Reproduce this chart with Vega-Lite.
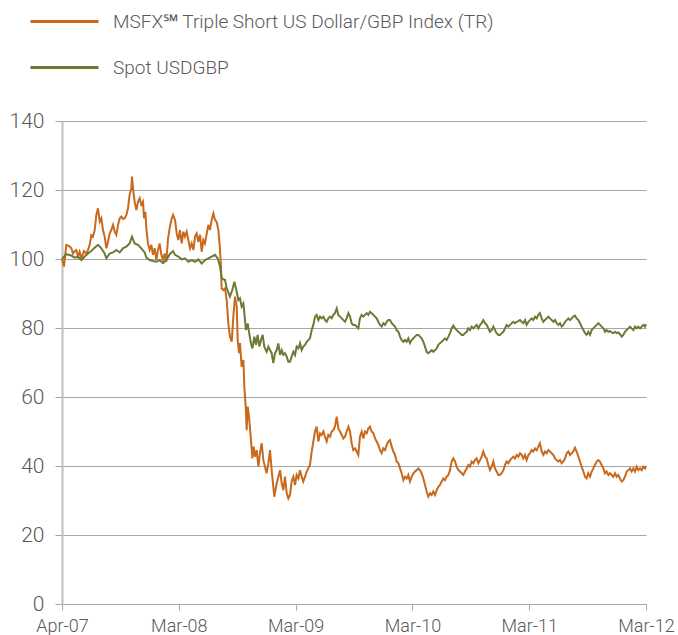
{
"$schema": "https://vega.github.io/schema/vega-lite/v6.json",
"width": 584,
"height": 483,
"autosize": {"type": "none"},
"padding": {"left": 62, "top": 121, "right": 32, "bottom": 31},
"background": "white",
"config": {"view": {"stroke": null}, "font": "Roboto"},
"datasets": {
"msfx": [
{"t":0,"v":100},{"t":0.017,"v":97.8},{"t":0.037,"v":104.1},{"t":0.051,"v":103.9},{"t":0.066,"v":103.6},{"t":0.080,"v":103.1},{"t":0.094,"v":101.6},{"t":0.109,"v":102.3},{"t":0.123,"v":102.6},{"t":0.137,"v":100.7},{"t":0.151,"v":102.1},{"t":0.166,"v":100.2},{"t":0.188,"v":102.3},{"t":0.208,"v":101.6},{"t":0.223,"v":102.6},{"t":0.237,"v":104.1},{"t":0.251,"v":106.9},{"t":0.265,"v":106.5},{"t":0.280,"v":108.4},{"t":0.294,"v":112.8},{"t":0.308,"v":114.7},{"t":0.323,"v":110.8},{"t":0.337,"v":111.8},{"t":0.351,"v":108.4},{"t":0.365,"v":106.5},{"t":0.380,"v":103.1},{"t":0.394,"v":105.0},{"t":0.408,"v":107.4},{"t":0.422,"v":108.4},{"t":0.437,"v":109.9},{"t":0.451,"v":107.9},{"t":0.465,"v":107.0},{"t":0.480,"v":109.9},{"t":0.494,"v":111.8},{"t":0.508,"v":112.3},{"t":0.522,"v":111.6},{"t":0.537,"v":111.8},{"t":0.551,"v":112.8},{"t":0.565,"v":114.7},{"t":0.579,"v":118.6},{"t":0.594,"v":120.5},{"t":0.599,"v":123.9},{"t":0.611,"v":119.5},{"t":0.622,"v":116.6},{"t":0.637,"v":114.2},{"t":0.651,"v":116.6},{"t":0.665,"v":117.6},{"t":0.679,"v":115.7},{"t":0.694,"v":116.6},{"t":0.702,"v":111.8},{"t":0.714,"v":113.7},{"t":0.722,"v":108.9},{"t":0.736,"v":104.5},{"t":0.751,"v":102.6},{"t":0.765,"v":104.1},{"t":0.779,"v":101.2},{"t":0.794,"v":103.1},{"t":0.808,"v":99.7},{"t":0.822,"v":102.6},{"t":0.836,"v":104.5},{"t":0.851,"v":101.2},{"t":0.865,"v":99.7},{"t":0.879,"v":101.6},{"t":0.893,"v":99.2},{"t":0.908,"v":106.0},{"t":0.922,"v":108.9},{"t":0.936,"v":111.3},{"t":0.951,"v":112.8},
{"t":0.968,"v":111.3},{"t":0.982,"v":107.4},{"t":0.996,"v":105.5},{"t":1.010,"v":108.4},{"t":1.025,"v":104.5},{"t":1.039,"v":107.9},{"t":1.053,"v":106.5},{"t":1.067,"v":107.9},{"t":1.082,"v":105.5},{"t":1.096,"v":103.1},{"t":1.110,"v":104.5},{"t":1.125,"v":102.6},{"t":1.139,"v":106.5},{"t":1.153,"v":107.4},{"t":1.167,"v":105.0},{"t":1.182,"v":107.0},{"t":1.196,"v":102.1},{"t":1.210,"v":105.5},{"t":1.224,"v":104.5},{"t":1.239,"v":107.4},{"t":1.253,"v":109.9},{"t":1.267,"v":108.4},{"t":1.281,"v":111.3},{"t":1.296,"v":113.2},{"t":1.310,"v":111.3},{"t":1.324,"v":110.8},{"t":1.339,"v":108.4},{"t":1.353,"v":102.6},{"t":1.361,"v":97.8},{"t":1.367,"v":91.5},{"t":1.381,"v":91.0},{"t":1.396,"v":91.5},{"t":1.410,"v":88.1},{"t":1.424,"v":81.3},{"t":1.438,"v":77.5},{"t":1.453,"v":76.0},{"t":1.467,"v":83.3},{"t":1.481,"v":89.1},{"t":1.496,"v":86.2},{"t":1.504,"v":76.5},{"t":1.516,"v":72.7},{"t":1.524,"v":75.6},{"t":1.538,"v":68.8},{"t":1.553,"v":70.7},{"t":1.561,"v":63.0},{"t":1.573,"v":57.2},{"t":1.581,"v":50.4},{"t":1.590,"v":57.2},{"t":1.601,"v":54.3},{"t":1.618,"v":47.5},{"t":1.630,"v":42.2},{"t":1.641,"v":45.6},{"t":1.653,"v":42.7},{"t":1.667,"v":44.6},{"t":1.681,"v":39.8},{"t":1.695,"v":43.7},{"t":1.710,"v":46.6},{"t":1.724,"v":41.7},{"t":1.738,"v":39.8},{"t":1.752,"v":37.9},{"t":1.767,"v":40.8},{"t":1.781,"v":44.6},{"t":1.795,"v":38.8},{"t":1.809,"v":34.0},{"t":1.818,"v":31.1},{"t":1.838,"v":35.0},{"t":1.852,"v":36.9},{"t":1.867,"v":38.8},{"t":1.881,"v":35.0},{"t":1.895,"v":33.0},{"t":1.909,"v":36.9},{"t":1.924,"v":32.1},{"t":1.938,"v":30.6},
{"t":1.952,"v":31.6},{"t":1.966,"v":35.5},{"t":1.981,"v":36.9},{"t":1.995,"v":34.5},{"t":2.009,"v":37.4},{"t":2.024,"v":36.4},{"t":2.038,"v":38.8},{"t":2.052,"v":36.9},{"t":2.066,"v":35.5},{"t":2.081,"v":36.9},{"t":2.095,"v":38.4},{"t":2.109,"v":39.3},{"t":2.123,"v":40.3},{"t":2.138,"v":44.2},{"t":2.152,"v":47.1},{"t":2.166,"v":50.0},{"t":2.180,"v":51.4},{"t":2.195,"v":47.1},{"t":2.209,"v":49.5},{"t":2.223,"v":49.0},{"t":2.238,"v":50.0},{"t":2.252,"v":48.5},{"t":2.266,"v":47.1},{"t":2.280,"v":49.0},{"t":2.295,"v":48.5},{"t":2.309,"v":50.0},{"t":2.323,"v":50.4},{"t":2.337,"v":51.4},{"t":2.352,"v":54.3},{"t":2.366,"v":50.9},{"t":2.380,"v":50.0},{"t":2.395,"v":49.0},{"t":2.409,"v":48.0},{"t":2.423,"v":48.5},{"t":2.437,"v":50.0},{"t":2.452,"v":51.4},{"t":2.466,"v":50.0},{"t":2.480,"v":46.6},{"t":2.494,"v":44.6},{"t":2.509,"v":45.1},{"t":2.523,"v":44.2},{"t":2.537,"v":43.2},{"t":2.551,"v":48.5},{"t":2.566,"v":50.0},{"t":2.580,"v":48.0},{"t":2.594,"v":50.0},{"t":2.609,"v":49.5},{"t":2.623,"v":50.9},{"t":2.637,"v":51.4},{"t":2.651,"v":50.0},{"t":2.666,"v":49.5},{"t":2.680,"v":48.0},{"t":2.694,"v":47.1},{"t":2.708,"v":46.1},{"t":2.723,"v":44.6},{"t":2.737,"v":43.7},{"t":2.751,"v":45.1},{"t":2.766,"v":44.6},{"t":2.780,"v":46.1},{"t":2.794,"v":47.1},{"t":2.808,"v":47.5},{"t":2.823,"v":45.6},{"t":2.837,"v":44.2},{"t":2.851,"v":43.2},{"t":2.865,"v":41.3},{"t":2.880,"v":40.8},{"t":2.894,"v":39.3},{"t":2.908,"v":37.9},{"t":2.923,"v":35.9},
{"t":2.937,"v":36.9},{"t":2.951,"v":36.4},{"t":2.965,"v":37.4},{"t":2.979,"v":35.5},{"t":2.994,"v":36.9},{"t":3.008,"v":37.9},{"t":3.022,"v":38.4},{"t":3.037,"v":38.8},{"t":3.051,"v":39.3},{"t":3.065,"v":38.8},{"t":3.079,"v":37.9},{"t":3.094,"v":36.4},{"t":3.108,"v":34.5},{"t":3.122,"v":32.6},{"t":3.136,"v":31.1},{"t":3.151,"v":32.1},{"t":3.165,"v":31.6},{"t":3.179,"v":32.6},{"t":3.194,"v":31.6},{"t":3.208,"v":33.0},{"t":3.222,"v":34.0},{"t":3.236,"v":34.5},{"t":3.251,"v":35.5},{"t":3.265,"v":36.4},{"t":3.279,"v":35.9},{"t":3.293,"v":36.9},{"t":3.308,"v":37.4},{"t":3.322,"v":38.8},{"t":3.336,"v":41.3},{"t":3.350,"v":42.2},{"t":3.365,"v":41.3},{"t":3.379,"v":39.8},{"t":3.393,"v":38.8},{"t":3.408,"v":38.4},{"t":3.422,"v":37.9},{"t":3.436,"v":37.4},{"t":3.450,"v":38.4},{"t":3.465,"v":39.3},{"t":3.479,"v":40.3},{"t":3.493,"v":39.8},{"t":3.507,"v":41.3},{"t":3.522,"v":40.8},{"t":3.536,"v":41.7},{"t":3.550,"v":42.2},{"t":3.565,"v":40.8},{"t":3.579,"v":41.7},{"t":3.593,"v":42.7},{"t":3.607,"v":44.2},{"t":3.622,"v":42.7},{"t":3.636,"v":42.2},{"t":3.650,"v":40.3},{"t":3.664,"v":38.8},{"t":3.679,"v":39.8},{"t":3.693,"v":41.3},{"t":3.707,"v":39.3},{"t":3.721,"v":38.4},{"t":3.736,"v":37.4},{"t":3.750,"v":37.4},{"t":3.764,"v":37.9},{"t":3.779,"v":38.8},{"t":3.793,"v":40.3},{"t":3.807,"v":41.3},{"t":3.821,"v":40.8},{"t":3.836,"v":41.7},{"t":3.850,"v":42.2},{"t":3.864,"v":42.7},{"t":3.878,"v":42.2},{"t":3.893,"v":43.2},{"t":3.907,"v":42.7},
{"t":3.921,"v":43.7},{"t":3.936,"v":43.2},{"t":3.950,"v":42.2},{"t":3.964,"v":43.2},{"t":3.978,"v":41.7},{"t":3.993,"v":43.2},{"t":4.007,"v":43.7},{"t":4.021,"v":44.6},{"t":4.035,"v":44.2},{"t":4.050,"v":45.1},{"t":4.064,"v":44.6},{"t":4.078,"v":45.6},{"t":4.092,"v":46.6},{"t":4.107,"v":44.2},{"t":4.121,"v":43.2},{"t":4.135,"v":44.2},{"t":4.150,"v":43.7},{"t":4.164,"v":44.6},{"t":4.178,"v":44.2},{"t":4.192,"v":43.7},{"t":4.207,"v":43.2},{"t":4.221,"v":42.2},{"t":4.235,"v":41.7},{"t":4.249,"v":41.3},{"t":4.264,"v":41.7},{"t":4.278,"v":40.8},{"t":4.292,"v":41.3},{"t":4.307,"v":42.2},{"t":4.321,"v":43.7},{"t":4.335,"v":44.2},{"t":4.349,"v":43.2},{"t":4.364,"v":43.7},{"t":4.378,"v":44.2},{"t":4.392,"v":45.3},{"t":4.406,"v":44.2},{"t":4.421,"v":42.7},{"t":4.435,"v":41.3},{"t":4.449,"v":39.8},{"t":4.464,"v":38.4},{"t":4.478,"v":36.9},{"t":4.492,"v":36.4},{"t":4.506,"v":37.9},{"t":4.521,"v":36.9},{"t":4.535,"v":38.4},{"t":4.549,"v":39.3},{"t":4.563,"v":40.3},{"t":4.578,"v":41.3},{"t":4.592,"v":41.7},{"t":4.606,"v":41.3},{"t":4.620,"v":40.3},{"t":4.635,"v":39.3},{"t":4.649,"v":37.9},{"t":4.663,"v":38.4},{"t":4.678,"v":37.4},{"t":4.692,"v":37.9},{"t":4.706,"v":37.4},{"t":4.720,"v":36.9},{"t":4.735,"v":37.9},{"t":4.749,"v":36.9},{"t":4.763,"v":37.4},{"t":4.777,"v":36.4},{"t":4.792,"v":35.5},{"t":4.806,"v":35.9},{"t":4.820,"v":36.9},{"t":4.835,"v":38.4},{"t":4.849,"v":38.8},{"t":4.863,"v":39.3},{"t":4.877,"v":38.4},{"t":4.892,"v":39.3},{"t":4.906,"v":38.4},{"t":4.920,"v":39.8},{"t":4.934,"v":38.8},{"t":4.949,"v":39.3},{"t":4.963,"v":38.8},{"t":4.977,"v":39.8},{"t":4.991,"v":39.3},{"t":5.0,"v":40.0}
],
"spot": [
{"t":0,"v":100},{"t":0.037,"v":101.4},{"t":0.080,"v":101.0},{"t":0.109,"v":100.4},{"t":0.137,"v":100.7},{"t":0.166,"v":99.7},{"t":0.194,"v":100.7},{"t":0.223,"v":101.6},{"t":0.251,"v":102.3},{"t":0.280,"v":103.3},{"t":0.308,"v":104.1},{"t":0.337,"v":103.1},{"t":0.365,"v":101.6},{"t":0.380,"v":100.2},{"t":0.408,"v":101.6},{"t":0.437,"v":101.9},{"t":0.465,"v":102.6},{"t":0.494,"v":101.9},{"t":0.522,"v":103.1},{"t":0.551,"v":103.6},{"t":0.579,"v":104.5},{"t":0.599,"v":106.5},{"t":0.622,"v":104.5},{"t":0.651,"v":104.1},{"t":0.679,"v":103.1},{"t":0.708,"v":101.9},{"t":0.722,"v":100.4},{"t":0.751,"v":99.7},{"t":0.779,"v":99.4},{"t":0.808,"v":99.2},{"t":0.836,"v":99.7},{"t":0.865,"v":98.8},{"t":0.893,"v":99.7},{"t":0.922,"v":101.4},{"t":0.951,"v":102.3},
{"t":0.968,"v":101.2},{"t":0.996,"v":100.7},{"t":1.025,"v":99.9},{"t":1.053,"v":100.2},{"t":1.082,"v":99.2},{"t":1.110,"v":99.7},{"t":1.139,"v":99.2},{"t":1.167,"v":99.9},{"t":1.196,"v":98.7},{"t":1.224,"v":99.7},{"t":1.253,"v":100.2},{"t":1.281,"v":100.7},{"t":1.310,"v":101.2},{"t":1.333,"v":100.2},{"t":1.353,"v":97.8},{"t":1.367,"v":94.4},{"t":1.396,"v":93.9},{"t":1.410,"v":91.5},{"t":1.438,"v":89.1},{"t":1.458,"v":91.0},{"t":1.476,"v":93.4},{"t":1.496,"v":90.5},{"t":1.510,"v":88.1},{"t":1.524,"v":88.6},{"t":1.538,"v":86.2},{"t":1.553,"v":87.1},{"t":1.567,"v":82.3},{"t":1.575,"v":79.4},{"t":1.590,"v":81.3},{"t":1.601,"v":78.9},{"t":1.618,"v":75.5},{"t":1.630,"v":74.1},{"t":1.647,"v":77.5},{"t":1.661,"v":75.1},{"t":1.675,"v":78.0},{"t":1.690,"v":74.6},{"t":1.704,"v":76.5},{"t":1.718,"v":78.0},{"t":1.732,"v":74.6},{"t":1.752,"v":73.1},{"t":1.767,"v":74.6},{"t":1.781,"v":73.6},{"t":1.795,"v":72.7},{"t":1.809,"v":69.8},{"t":1.824,"v":72.7},{"t":1.838,"v":73.6},{"t":1.852,"v":75.5},{"t":1.867,"v":72.2},{"t":1.881,"v":73.6},{"t":1.895,"v":72.2},{"t":1.909,"v":72.7},{"t":1.924,"v":71.7},{"t":1.938,"v":70.2},
{"t":1.952,"v":70.2},{"t":1.966,"v":71.7},{"t":1.981,"v":73.1},{"t":1.995,"v":72.2},{"t":2.009,"v":74.6},{"t":2.024,"v":74.1},{"t":2.038,"v":75.6},{"t":2.052,"v":73.6},{"t":2.066,"v":74.6},{"t":2.081,"v":75.1},{"t":2.095,"v":76.0},{"t":2.109,"v":76.5},{"t":2.123,"v":77.0},{"t":2.138,"v":79.4},{"t":2.152,"v":80.9},{"t":2.166,"v":83.3},{"t":2.180,"v":83.8},{"t":2.195,"v":82.3},{"t":2.209,"v":83.3},{"t":2.223,"v":82.8},{"t":2.238,"v":83.3},{"t":2.252,"v":82.3},{"t":2.266,"v":81.8},{"t":2.280,"v":82.8},{"t":2.295,"v":83.3},{"t":2.309,"v":82.8},{"t":2.323,"v":83.8},{"t":2.337,"v":84.3},{"t":2.352,"v":85.7},{"t":2.366,"v":83.8},{"t":2.380,"v":83.3},{"t":2.395,"v":82.8},{"t":2.409,"v":82.3},{"t":2.423,"v":81.8},{"t":2.437,"v":82.8},{"t":2.452,"v":84.3},{"t":2.466,"v":83.3},{"t":2.480,"v":81.4},{"t":2.494,"v":80.9},{"t":2.509,"v":80.9},{"t":2.523,"v":80.4},{"t":2.537,"v":79.9},{"t":2.551,"v":82.8},{"t":2.566,"v":83.8},{"t":2.580,"v":83.3},{"t":2.594,"v":83.8},{"t":2.609,"v":84.3},{"t":2.623,"v":83.8},{"t":2.637,"v":84.7},{"t":2.651,"v":84.3},{"t":2.666,"v":83.8},{"t":2.680,"v":83.3},{"t":2.694,"v":82.8},{"t":2.708,"v":81.8},{"t":2.723,"v":80.9},{"t":2.737,"v":80.4},{"t":2.751,"v":81.4},{"t":2.766,"v":80.9},{"t":2.780,"v":81.8},{"t":2.794,"v":82.3},{"t":2.808,"v":82.3},{"t":2.823,"v":81.4},{"t":2.837,"v":80.9},{"t":2.851,"v":80.4},{"t":2.865,"v":79.4},{"t":2.880,"v":78.9},{"t":2.894,"v":77.5},{"t":2.908,"v":76.5},{"t":2.923,"v":76.0},
{"t":2.937,"v":76.5},{"t":2.951,"v":76.0},{"t":2.965,"v":77.0},{"t":2.979,"v":75.6},{"t":2.994,"v":76.5},{"t":3.008,"v":77.0},{"t":3.022,"v":77.5},{"t":3.037,"v":78.0},{"t":3.051,"v":78.0},{"t":3.065,"v":77.5},{"t":3.079,"v":77.0},{"t":3.094,"v":76.0},{"t":3.108,"v":74.6},{"t":3.122,"v":73.1},{"t":3.136,"v":72.7},{"t":3.151,"v":73.1},{"t":3.165,"v":73.6},{"t":3.179,"v":73.1},{"t":3.194,"v":73.6},{"t":3.208,"v":74.1},{"t":3.222,"v":75.1},{"t":3.236,"v":75.6},{"t":3.251,"v":76.0},{"t":3.265,"v":76.5},{"t":3.279,"v":77.0},{"t":3.293,"v":76.5},{"t":3.308,"v":77.5},{"t":3.322,"v":78.5},{"t":3.336,"v":79.9},{"t":3.350,"v":80.7},{"t":3.365,"v":79.9},{"t":3.379,"v":79.4},{"t":3.393,"v":78.9},{"t":3.408,"v":78.5},{"t":3.422,"v":78.0},{"t":3.436,"v":78.0},{"t":3.450,"v":78.5},{"t":3.465,"v":78.9},{"t":3.479,"v":79.9},{"t":3.493,"v":79.4},{"t":3.507,"v":80.4},{"t":3.522,"v":79.9},{"t":3.536,"v":80.4},{"t":3.550,"v":80.9},{"t":3.565,"v":79.9},{"t":3.579,"v":80.9},{"t":3.593,"v":81.4},{"t":3.607,"v":82.3},{"t":3.622,"v":81.4},{"t":3.636,"v":80.9},{"t":3.650,"v":79.9},{"t":3.664,"v":78.9},{"t":3.679,"v":79.4},{"t":3.693,"v":80.4},{"t":3.707,"v":79.4},{"t":3.721,"v":78.5},{"t":3.736,"v":78.0},{"t":3.750,"v":78.0},{"t":3.764,"v":78.5},{"t":3.779,"v":78.9},{"t":3.793,"v":79.9},{"t":3.807,"v":80.9},{"t":3.821,"v":80.4},{"t":3.836,"v":80.9},{"t":3.850,"v":81.4},{"t":3.864,"v":81.8},{"t":3.878,"v":81.4},{"t":3.893,"v":81.8},{"t":3.907,"v":82.0},
{"t":3.921,"v":82.3},{"t":3.936,"v":81.8},{"t":3.950,"v":81.4},{"t":3.964,"v":82.3},{"t":3.978,"v":80.9},{"t":3.993,"v":81.8},{"t":4.007,"v":82.3},{"t":4.021,"v":82.8},{"t":4.035,"v":82.3},{"t":4.050,"v":83.3},{"t":4.064,"v":82.8},{"t":4.078,"v":83.8},{"t":4.092,"v":84.3},{"t":4.107,"v":82.8},{"t":4.121,"v":81.8},{"t":4.135,"v":82.3},{"t":4.150,"v":82.8},{"t":4.164,"v":83.3},{"t":4.178,"v":82.8},{"t":4.192,"v":82.3},{"t":4.207,"v":81.8},{"t":4.221,"v":82.3},{"t":4.235,"v":81.4},{"t":4.249,"v":80.9},{"t":4.264,"v":81.4},{"t":4.278,"v":80.4},{"t":4.292,"v":80.9},{"t":4.307,"v":81.8},{"t":4.321,"v":82.3},{"t":4.335,"v":82.8},{"t":4.349,"v":82.3},{"t":4.364,"v":82.8},{"t":4.378,"v":83.3},{"t":4.392,"v":83.6},{"t":4.406,"v":82.8},{"t":4.421,"v":82.3},{"t":4.435,"v":81.4},{"t":4.449,"v":80.4},{"t":4.464,"v":79.4},{"t":4.478,"v":78.5},{"t":4.492,"v":78.0},{"t":4.506,"v":78.9},{"t":4.521,"v":78.0},{"t":4.535,"v":79.4},{"t":4.549,"v":79.9},{"t":4.563,"v":80.4},{"t":4.578,"v":80.9},{"t":4.592,"v":81.4},{"t":4.606,"v":80.9},{"t":4.620,"v":80.4},{"t":4.635,"v":79.9},{"t":4.649,"v":78.9},{"t":4.663,"v":79.4},{"t":4.678,"v":78.9},{"t":4.692,"v":79.1},{"t":4.706,"v":78.7},{"t":4.720,"v":78.5},{"t":4.735,"v":78.9},{"t":4.749,"v":78.5},{"t":4.763,"v":78.7},{"t":4.777,"v":78.2},{"t":4.792,"v":77.5},{"t":4.806,"v":78.0},{"t":4.820,"v":78.9},{"t":4.835,"v":79.4},{"t":4.849,"v":79.9},{"t":4.863,"v":80.4},{"t":4.877,"v":79.9},{"t":4.892,"v":79.4},{"t":4.906,"v":80.4},{"t":4.920,"v":79.9},{"t":4.934,"v":80.4},{"t":4.949,"v":79.9},{"t":4.963,"v":80.4},{"t":4.977,"v":80.9},{"t":4.991,"v":80.4},{"t":5.0,"v":81.1}
]
},
"encoding": {
"x": {"field": "t", "type": "quantitative", "scale": {"domain": [0, 5], "nice": false, "zero": false},
 "axis": {"values": [0, 1, 2, 3, 4, 5], "labelExpr": "['Apr-07','Mar-08','Mar-09','Mar-10','Mar-11','Mar-12'][datum.value]", "grid": false, "title": null, "domainColor": "#a6a6a6", "domainWidth": 1, "tickColor": "#a6a6a6", "tickSize": 6, "labelFontSize": 18, "labelColor": "#595959", "labelFontWeight": 300, "labelPadding": 7, "labelFlush": false}},
"y": {"field": "v", "type": "quantitative", "scale": {"domain": [0, 140], "nice": false},
 "axis": {"values": [0, 20, 40, 60, 80, 100, 120, 140], "title": null, "grid": true, "gridColor": "#a6a6a6", "gridWidth": 1, "domainColor": "#c0c0c0", "domainWidth": 2, "tickColor": "#a6a6a6", "tickSize": 7, "labelPadding": 11, "labelFontSize": 21, "labelColor": "#595959", "labelFontWeight": 300}}
},
"layer": [
{"data": {"name": "msfx"}, "mark": {"type": "line", "strokeWidth": 2},
 "encoding": {"color": {"datum": "MSFX℠ Triple Short US Dollar/GBP Index (TR)", "type": "nominal",
  "scale": {"domain": ["MSFX℠ Triple Short US Dollar/GBP Index (TR)", "Spot USDGBP"], "range": ["#C8691C", "#6B7A34"]},
  "legend": {"orient": "none", "legendX": -33, "legendY": -135, "direction": "vertical", "title": null, "symbolType": "stroke", "symbolSize": 4624, "symbolStrokeWidth": 3, "labelFontSize": 19, "labelColor": "#595959", "labelFontWeight": 300, "labelOffset": 13, "rowPadding": -28, "labelLimit": 600}}}},
{"data": {"name": "spot"}, "mark": {"type": "line", "strokeWidth": 2},
 "encoding": {"color": {"datum": "Spot USDGBP", "type": "nominal"}}}
]
}
